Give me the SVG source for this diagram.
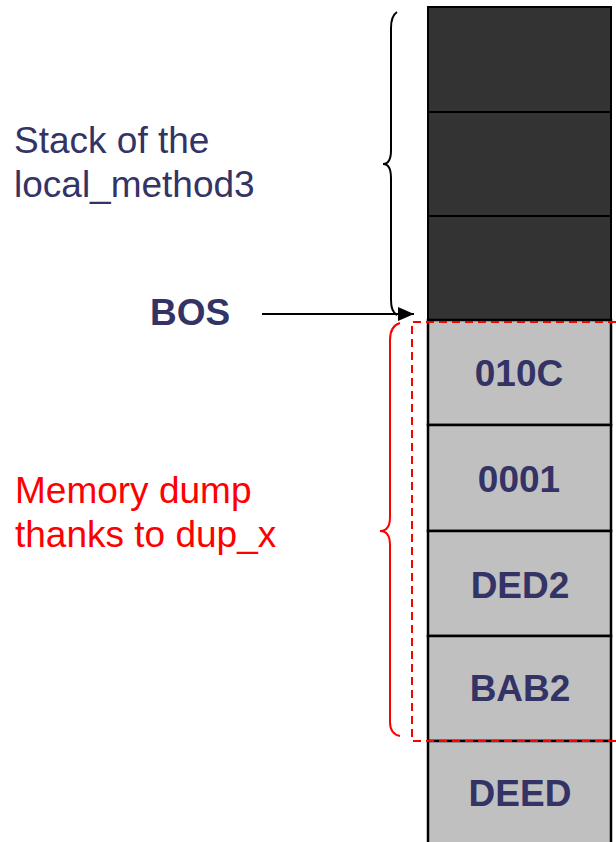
<svg xmlns="http://www.w3.org/2000/svg" width="616" height="842" viewBox="0 0 616 842">
<defs>
<style>
.dark{fill:#333333;stroke:#000;stroke-width:2}
.cell{fill:#C0C0C0;stroke:#000;stroke-width:2.5}
.val{font-family:"Liberation Sans",Arial,sans-serif;font-weight:bold;font-size:37px;fill:#333366;text-anchor:middle}
.lbl{font-family:"Liberation Sans",Arial,sans-serif;font-size:37px;fill:#333366}
.redt{fill:#FF0000}
.brace{fill:none;stroke-width:2}
</style>
<marker id="ah" markerWidth="16" markerHeight="14" refX="16" refY="7" orient="auto" markerUnits="userSpaceOnUse">
<path d="M0,0 L16,7 L0,14 Z" fill="#000"/>
</marker>
</defs>
<rect width="616" height="842" fill="#fff"/>
<g id="stack">
<g id="cell-dark-1"><rect class="dark" x="428" y="7" width="183" height="105"/></g>
<g id="cell-dark-2"><rect class="dark" x="428" y="112" width="183" height="104"/></g>
<g id="cell-dark-3"><rect class="dark" x="428" y="216" width="183" height="104"/></g>
<g id="cell-010C"><rect class="cell" x="428" y="320" width="183" height="105"/><text class="val" x="519" y="386">010C</text></g>
<g id="cell-0001"><rect class="cell" x="428" y="425" width="183" height="106"/><text class="val" x="519" y="492">0001</text></g>
<g id="cell-DED2"><rect class="cell" x="428" y="531" width="183" height="105"/><text class="val" x="520" y="598">DED2</text></g>
<g id="cell-BAB2"><rect class="cell" x="428" y="636" width="183" height="105"/><text class="val" x="520" y="701">BAB2</text></g>
<g id="cell-DEED"><rect class="cell" x="428" y="741" width="183" height="110"/><text class="val" x="520" y="806">DEED</text></g>
</g>
<g id="label-stack"><text class="lbl" x="14" y="153">Stack of the</text><text class="lbl" x="14" y="197">local_method3</text></g>
<g id="label-bos"><text class="lbl" x="150" y="325" style="font-weight:bold">BOS</text></g>
<g id="label-dump"><text class="lbl redt" x="15" y="503">Memory dump</text><text class="lbl redt" x="15" y="547">thanks to dup_x</text></g>
<g id="connectors">
<path class="brace" stroke="#000" d="M397,12 Q391,16 391,28 L391,150 Q391,164 383,164 Q391,164 391,178 L391,300 Q391,312 397,315"/>
<line x1="262" y1="314" x2="414" y2="314" stroke="#000" stroke-width="2" marker-end="url(#ah)"/>
<path class="brace" stroke="#FF0000" d="M400,323 Q390,326 390,340 L390,517 Q390,531 380,531 Q390,531 390,545 L390,722 Q390,734 400,736"/>
<path d="M616,322 L412,322 L412,741 L616,741" fill="none" stroke="#FF0000" stroke-width="2" stroke-dasharray="8 5"/>
</g>
</svg>
